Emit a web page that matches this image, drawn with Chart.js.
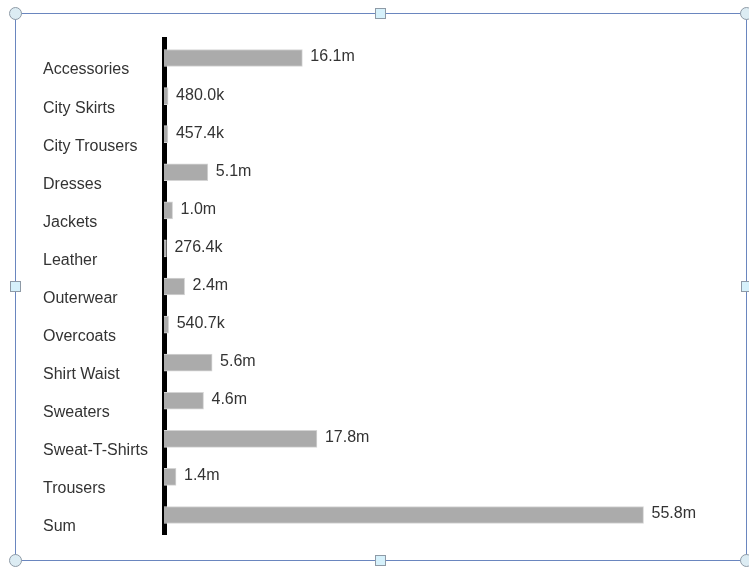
<!DOCTYPE html>
<html>
<head>
<meta charset="utf-8">
<script src="https://cdn.jsdelivr.net/npm/chart.js@4.4.0/dist/chart.umd.min.js"></script>
<style>
    body { margin: 0; background: #fff; }
    #wrap { position: relative; width: 749px; height: 569px; overflow: hidden; }
    #frame { position: absolute; left: 15px; top: 13px; width: 730px; height: 546px; border: 1px solid #6a86bf; }
    .h { position: absolute; box-sizing: border-box; border: 1px solid #8e9aa6; background: #dcecf3; }
    .c { width: 13px; height: 13px; border-radius: 50%; }
    .s { width: 11px; height: 11px; background: #d6f1fb; }
    canvas { position: absolute; left: 0; top: 0; }
</style>
</head>
<body>
<div id="wrap">
    <div id="frame"></div>
    <canvas id="barCanvas" width="749" height="569"></canvas>
    <div class="h c" style="left:9px;top:7px"></div>
    <div class="h c" style="left:740px;top:7px"></div>
    <div class="h c" style="left:9px;top:554px"></div>
    <div class="h c" style="left:740px;top:554px"></div>
    <div class="h s" style="left:375px;top:8px"></div>
    <div class="h s" style="left:375px;top:555px"></div>
    <div class="h s" style="left:10px;top:281px"></div>
    <div class="h s" style="left:741px;top:281px"></div>
</div>
<script>
// umsatz je kategorie, werte in millionen
let categories = ['Accessories', 'City Skirts', 'City Trousers', 'Dresses', 'Jackets', 'Leather',
    'Outerwear', 'Overcoats', 'Shirt Waist', 'Sweaters', 'Sweat-T-Shirts', 'Trousers', 'Sum'];
let values = [16.1, 0.48, 0.4574, 5.1, 1.0, 0.2764, 2.4, 0.5407, 5.6, 4.6, 17.8, 1.4, 55.8];

let formatValue = function (v) {
    if (v >= 1) return v.toFixed(1) + 'm';
    return (v * 1000).toFixed(1) + 'k';
};

let valueLabels = {
    id: 'valueLabels',
    afterDatasetsDraw: function (chart) {
        let ctx = chart.ctx;
        let meta = chart.getDatasetMeta(0);
        ctx.save();
        ctx.font = '16px "Liberation Sans", Arial, sans-serif';
        ctx.fillStyle = '#333';
        ctx.textBaseline = 'middle';
        meta.data.forEach(function (bar, i) {
            ctx.fillText(formatValue(values[i]), bar.x + 8, bar.y - 1);
        });
        ctx.restore();
    }
};

let ctx = document.getElementById('barCanvas').getContext('2d');
window.barChart = new Chart(ctx, {
    type: 'bar',
    data: {
        labels: categories,
        datasets: [{
            data: values,
            backgroundColor: '#ababab',
            borderColor: '#d4d4d4',
            borderWidth: 1,
            barThickness: 17
        }]
    },
    options: {
        indexAxis: 'y',
        responsive: false,
        animation: false,
        layout: { padding: { left: 43, top: 39, bottom: 35, right: 29 } },
        plugins: {
            legend: { display: false },
            tooltip: { enabled: false }
        },
        scales: {
            x: { display: false, min: 0, max: 64.7 },
            y: {
                grid: { display: false, drawTicks: false },
                border: { color: '#000', width: 5 },
                afterFit: function (scale) { scale.width = 121; },
                ticks: {
                    crossAlign: 'far',
                    labelOffset: 12,
                    padding: 0,
                    color: '#333',
                    font: { family: '"Liberation Sans", Arial, sans-serif', size: 16 }
                }
            }
        }
    },
    plugins: [valueLabels]
});
</script>
</body>
</html>
